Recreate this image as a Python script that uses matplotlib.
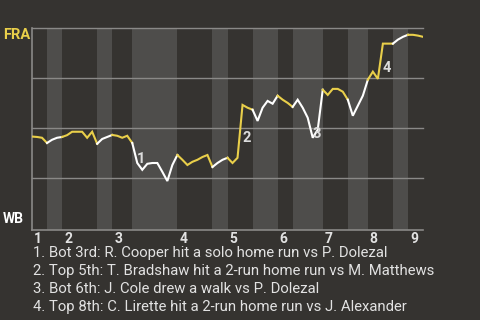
import matplotlib
matplotlib.use("Agg")
import matplotlib.pyplot as plt
import matplotlib.transforms as mtransforms

# Win probability for FRA (%), one value per plate appearance
wp = [45.8, 45.6, 45.2, 42.6, 44.2, 45.2, 45.6, 46.5, 48.2, 48.2,
      48.2, 45.2, 48.2, 42.2, 44.6, 45.6, 46.6, 46.2, 45.2, 46.2,
      42.6, 32.6, 29.2, 32.2, 32.6, 32.6, 28.2, 23.6, 31.6, 36.6,
      34.2, 31.6, 33.2, 34.2, 35.6, 36.6, 30.6, 32.6, 34.2, 35.2,
      32.6, 35.2, 61.6, 60.2, 59.2, 53.6, 60.2, 63.6, 62.2, 66.2,
      64.2, 62.6, 60.6, 64.2, 60.2, 55.2, 45.2, 49.2, 69.2, 66.6,
      69.6, 69.6, 68.2, 64.2, 56.2, 61.2, 66.2, 74.2, 78.2, 74.6,
      92.2, 92.2, 92.2, 94.2, 95.6, 96.6, 96.6, 96.2, 95.6]

# plate appearance index where each half inning starts (last = end of game)
half_starts = [0, 3, 6, 13, 16, 20, 29, 36, 39, 44, 49, 52, 58, 63, 67, 72, 75, 78]
innings = ["1", "2", "3", "4", "5", "6", "7", "8", "9"]

# key moments: plate appearance index, description
key_idx = [21, 42, 56, 70]
key_txt = [
    "1. Bot 3rd: R. Cooper hit a solo home run vs P. Dolezal",
    "2. Top 5th: T. Bradshaw hit a 2-run home run vs M. Matthews",
    "3. Bot 6th: J. Cole drew a walk vs P. Dolezal",
    "4. Top 8th: C. Lirette hit a 2-run home run vs J. Alexander",
]

BG = "#353330"
BAND = "#4e4d4b"
GRID = "#8a8987"
YELLOW = "#e9cf4a"
WHITE = "#ffffff"
TXT = "#e2e2e2"

plt.rcParams["font.family"] = ["Roboto", "DejaVu Sans"]

fig = plt.figure(figsize=(4.8, 3.2), dpi=100, facecolor=BG)
ax = fig.add_axes([32 / 480, 1 - 230 / 320, 391 / 480, 202 / 320])
ax.set_facecolor(BG)
ax.set_xlim(0, half_starts[-1])
ax.set_ylim(-0.85, 100)

# shaded bottom halves
for h in range(len(half_starts) - 1):
    if h % 2 == 1:
        ax.axvspan(half_starts[h], half_starts[h + 1], color=BAND, lw=0, zorder=0)

for y in [25, 50, 75, 100]:
    ax.axhline(y, color=GRID, lw=1, zorder=1, clip_on=False)

# line, coloured by which team is batting
xs = list(range(len(wp)))
for h in range(len(half_starts) - 1):
    a, b = half_starts[h], half_starts[h + 1]
    col = YELLOW if h % 2 == 0 else WHITE
    ax.plot(xs[a:b + 1], wp[a:b + 1], color=col, lw=1.5, zorder=3,
            solid_joinstyle="miter")

for n, i in enumerate(key_idx):
    ax.annotate(str(n + 1), xy=(i - 0.5, (wp[i - 1] + wp[i]) / 2),
                xytext=(6.5, -6.5), textcoords="offset pixels",
                ha="center", va="center", color="#dcdcdc",
                fontsize=10.5, fontweight="bold", zorder=4)

for s in ["top", "right"]:
    ax.spines[s].set_visible(False)
for s in ["left", "bottom"]:
    ax.spines[s].set_color(GRID)
    ax.spines[s].set_linewidth(1.2)

ax.set_yticks([])
ax.set_xticks(half_starts[0:-1:2])
ax.set_xticklabels(innings, ha="left", color=TXT, fontsize=10, fontweight="bold")
ax.tick_params(axis="x", length=0, pad=1.5)
off = mtransforms.ScaledTranslation(2 / 100, 0, fig.dpi_scale_trans)
for lab in ax.get_xticklabels():
    lab.set_transform(lab.get_transform() + off)

fig.text(3 / 480, 1 - 28 / 320, "FRA", color=YELLOW, fontsize=10.5,
         fontweight="bold", ha="left", va="top")
fig.text(3 / 480, 1 - 226 / 320, "WB", color=WHITE, fontsize=10,
         fontweight="bold", ha="left", va="bottom")

for k, t in enumerate(key_txt):
    fig.text(33 / 480, 1 - (253 + 18 * k) / 320, t, color=TXT, fontsize=10.7,
             ha="left", va="center")

fig.savefig("out.png", dpi=100, facecolor=BG)
